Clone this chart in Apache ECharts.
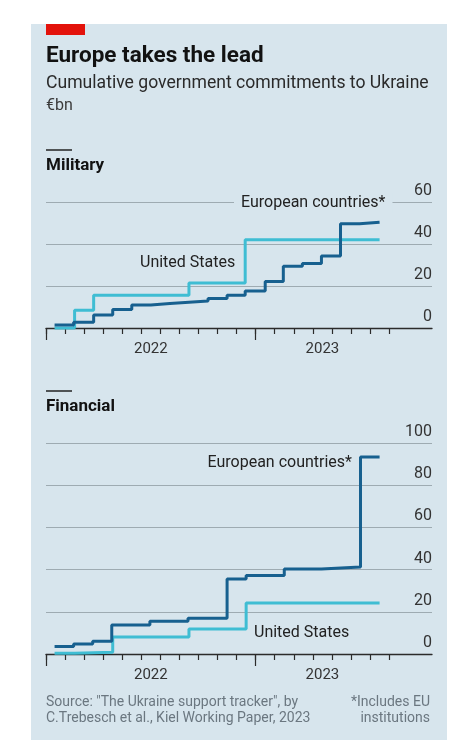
<!DOCTYPE html>
<html>
<head>
<meta charset="utf-8">
<script src="https://cdn.jsdelivr.net/npm/echarts@6/dist/echarts.min.js"></script>
<style>
  html, body { margin: 0; padding: 0; background: #fff; }
  #chart { width: 470px; height: 750px; }
</style>
</head>
<body>
<div id="chart"></div>
<script>
// x positions are months since 1 Feb 2022; each value holds until the next step
const milMonths = [0.45, 1.45, 2.5, 3.5, 4.5, 5.5, 6.5, 7.5, 8.5, 9.5, 10.45, 11.5, 12.45, 13.45, 14.45, 15.45, 16.45, 17.5];
const milEurope = [1.4, 2.7, 6.2, 8.8, 10.9, 11.7, 12.3, 12.9, 14.0, 15.6, 17.6, 22.2, 29.4, 30.7, 34.3, 49.6, 50.4, 50.4];
const milUsMonths = [0.45, 1.5, 2.5, 7.5, 10.45, 17.5];
const milUs = [0, 8.5, 15.6, 21.4, 42.0, 42.0];

const finMonths = [0.45, 1.45, 2.45, 3.45, 5.45, 7.45, 9.5, 10.5, 12.5, 14.45, 16.5, 17.5];
const finEurope = [3.5, 4.7, 6.1, 13.8, 15.5, 17.0, 35.6, 37.2, 40.3, 41.2, 93.4, 93.4];
const finUsMonths = [0.45, 1.5, 3.5, 7.5, 10.5, 17.5];
const finUs = [0.3, 0.8, 8.0, 11.8, 24.2, 24.2];

const monthTicks = [0, 1, 2, 3, 4, 5, 6, 7, 8, 9, 10, 11, 12, 13, 14, 15, 16, 17, 18];
const yearTicks = [0, 11];
const yearLabelPos = [5.5, 14.5];
const yearLabels = ['2022', '2023'];

const X_MAX = 20.25;
const DARK = '#17608f';
const LIGHT = '#3fbdd3';
const BG = '#d7e5ed';
const FONT = 'Roboto, "Noto Sans", sans-serif';

const pairs = (xs, ys) => xs.map((x, i) => [x, ys[i]]);

const chart = echarts.init(document.getElementById('chart'));

function xAxes(g) {
  return [
    {
      gridIndex: g, type: 'value', min: 0, max: X_MAX, position: 'bottom',
      axisLine: { show: true, lineStyle: { color: '#2b2b2b', width: 1.3 } },
      axisTick: { show: true, customValues: monthTicks, length: 6, lineStyle: { color: '#2b2b2b', width: 1.2 } },
      axisLabel: { show: false },
      splitLine: { show: false }
    },
    {
      gridIndex: g, type: 'value', min: 0, max: X_MAX, position: 'bottom', offset: 0,
      axisLine: { show: false },
      axisTick: { show: true, customValues: yearTicks, length: 12, lineStyle: { color: '#2b2b2b', width: 1.2 } },
      axisLabel: {
        show: true, customValues: yearLabelPos, margin: 14,
        color: '#333', fontSize: 15, fontFamily: FONT,
        formatter: (v) => yearLabels[yearLabelPos.indexOf(v)]
      },
      splitLine: { show: false }
    }
  ];
}

function yAxis(g, max) {
  return {
    gridIndex: g, type: 'value', position: 'right', min: 0, max: max, interval: 20,
    axisLine: { show: false },
    axisTick: { show: false },
    axisLabel: {
      inside: true, margin: 0, verticalAlign: 'bottom', padding: [0, 0, 3, 0],
      color: '#333', fontSize: 16, fontFamily: FONT
    },
    splitLine: { lineStyle: { color: '#9eabb2', width: 1 } }
  };
}

function stepSeries(name, data, color, xi, yi) {
  return {
    name: name, type: 'line', step: 'end', symbol: 'none', clip: false,
    xAxisIndex: xi, yAxisIndex: yi, data: data,
    lineStyle: { color: color, width: 3 }, itemStyle: { color: color },
    emphasis: { disabled: true }
  };
}

function txt(text, x, y, opts) {
  return {
    type: 'text', x: x, y: y, z: 100,
    style: Object.assign({
      text: text, fill: '#222', font: '16px ' + FONT,
      textAlign: 'left', textVerticalAlign: 'middle'
    }, opts || {})
  };
}

const option = {
  animation: false,
  grid: [
    { left: 46, top: 202, width: 386, height: 126 },
    { left: 46, top: 443, width: 386, height: 211 }
  ],
  xAxis: xAxes(0).concat(xAxes(1)),
  yAxis: [yAxis(0, 60), yAxis(1, 100)],
  series: [
    stepSeries('United States', pairs(milUsMonths, milUs), LIGHT, 0, 0),
    stepSeries('European countries*', pairs(milMonths, milEurope), DARK, 0, 0),
    stepSeries('United States', pairs(finUsMonths, finUs), LIGHT, 2, 1),
    stepSeries('European countries*', pairs(finMonths, finEurope), DARK, 2, 1)
  ],
  graphic: [
    { type: 'rect', z: -10, shape: { x: 31, y: 24, width: 416, height: 716 }, style: { fill: BG } },
    { type: 'rect', z: 10, shape: { x: 46, y: 24, width: 39, height: 11 }, style: { fill: '#e3120b' } },
    txt('Europe takes the lead', 46, 56, { font: 'bold 22.5px ' + FONT, fill: '#121212' }),
    txt('Cumulative government commitments to Ukraine', 46, 84, { font: '17.6px ' + FONT, fill: '#2a2a2a' }),
    txt('€bn', 46, 106, { font: '16px ' + FONT, fill: '#3a3a3a' }),
    { type: 'line', z: 10, shape: { x1: 46, y1: 150, x2: 72, y2: 150 }, style: { stroke: '#222', lineWidth: 1.5 } },
    txt('Military', 46, 166, { font: 'bold 17px ' + FONT, fill: '#121212' }),
    { type: 'line', z: 10, shape: { x1: 46, y1: 391, x2: 72, y2: 391 }, style: { stroke: '#222', lineWidth: 1.5 } },
    txt('Financial', 46, 407, { font: 'bold 17px ' + FONT, fill: '#121212' }),
    txt('European countries*', 234, 203, { backgroundColor: BG, padding: [2, 7, 2, 7] }),
    txt('United States', 140, 263),
    txt('European countries*', 352, 463, { textAlign: 'right' }),
    txt('United States', 254, 633),
    txt('Source: "The Ukraine support tracker", by', 46, 702, { font: '14px ' + FONT, fill: '#6b7780' }),
    txt('C.Trebesch et al., Kiel Working Paper, 2023', 46, 718, { font: '14px ' + FONT, fill: '#6b7780' }),
    txt('*Includes EU', 430, 702, { font: '14px ' + FONT, fill: '#6b7780', textAlign: 'right' }),
    txt('institutions', 430, 718, { font: '14px ' + FONT, fill: '#6b7780', textAlign: 'right' })
  ]
};

chart.setOption(option);
</script>
</body>
</html>
